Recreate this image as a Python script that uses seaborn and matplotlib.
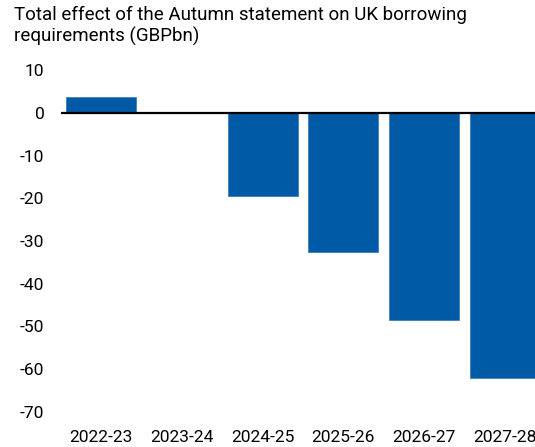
import matplotlib
matplotlib.use("Agg")
import matplotlib.pyplot as plt
import seaborn as sns
import pandas as pd

years = ["2022-23", "2023-24", "2024-25", "2025-26", "2026-27", "2027-28"]
effect = [3.7, 0.0, -19.4, -32.6, -48.4, -62.1]
y_ticks = [10, 0, -10, -20, -30, -40, -50, -60, -70]

sns.set_theme(style="white")
plt.rcParams["font.family"] = ["Roboto", "DejaVu Sans"]

df = pd.DataFrame({"year": years, "effect": effect})

fig = plt.figure(figsize=(5.35, 4.47), dpi=100)
ax = fig.add_axes([61 / 535, 1 - 412 / 447, (545 - 61) / 535, (412 - 70) / 447])

sns.barplot(data=df, x="year", y="effect", color="#005AA5", saturation=1,
            width=0.87, edgecolor="#3f7fbf", linewidth=0.6, ax=ax, zorder=2)

ax.axhline(0, color="black", linewidth=1.6, zorder=3)
ax.set_xlim(-0.5, 5.5)
ax.set_ylim(-70, 10)
ax.set_yticks(y_ticks)
ax.set_yticklabels([str(v) for v in y_ticks])
ax.set_xlabel("")
ax.set_ylabel("")
for s in ax.spines.values():
    s.set_visible(False)
ax.tick_params(axis="y", length=0, pad=12, labelsize=12.5, colors="black")
ax.tick_params(axis="x", length=0, pad=13, labelsize=12.5, colors="black")

fig.text(14 / 535, 1 - 6 / 447,
         "Total effect of the Autumn statement on UK borrowing\nrequirements (GBPbn)",
         ha="left", va="top", fontsize=13.5, color="black", linespacing=1.2)

fig.savefig("out.png", dpi=100)
